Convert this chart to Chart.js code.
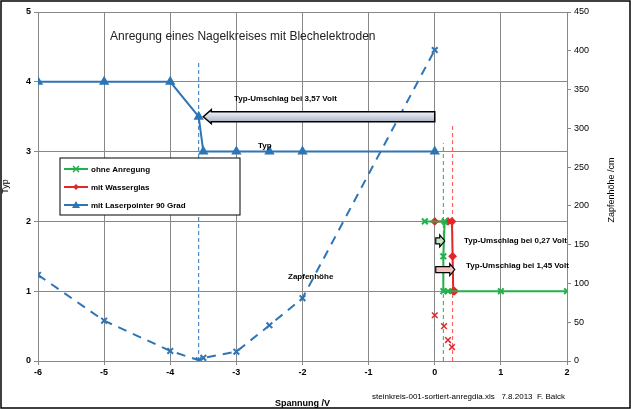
<!DOCTYPE html>
<html>
<head>
<meta charset="utf-8">
<script src="https://cdn.jsdelivr.net/npm/chart.js@4/dist/chart.umd.min.js"></script>
<style>
  body { margin: 0; background: #fff; }
  #wrap { width: 631px; height: 409px; position: relative; }
</style>
</head>
<body>
<div id="wrap"><canvas id="chart" width="631" height="409"></canvas></div>
<script>
// Typ (left axis)
var laserX = [-6, -5, -4, -3.57, -3.5, -3, -2.5, -2, 0];
var laserTyp = [4, 4, 4, 3.5, 3, 3, 3, 3, 3];
var ohneX = [-0.15, 0.15, 0.13, 0.13, 0.2, 1, 2];
var ohneTyp = [2, 2, 1.5, 1, 1, 1, 1];
var wasserX = [0, 0.2, 0.26, 0.27, 0.28, 0.3];
var wasserTyp = [2, 2, 2, 1.5, 1, 1];
// Zapfenhöhe /cm (right axis)
var zapfenX = [-6, -5, -4, -3.57, -3.5, -3, -2.5, -2, 0];
var zapfenH = [111, 52, 13, 1, 4, 12, 46, 81, 401];
var wasserZX = [0, 0.14, 0.2, 0.26];
var wasserZH = [59, 45, 27, 18];
// Umschlag-Markierungen
var markX = [-3.57, 0.13, 0.27];
var markTop = [4.28, 3.12, 3.38];
var markColors = ['#2e75b6', '#22b14c', '#ff5050'];
var xTicks = [-6, -5, -4, -3, -2, -1, 0, 1, 2];

function pts(xs, ys) {
    return xs.map(function (x, i) { return { x: x, y: ys[i] }; });
}

var datasets = [
    { label: 'ohne Anregung', data: pts(ohneX, ohneTyp), borderColor: '#22b14c', backgroundColor: '#22b14c',
      pointStyle: 'crossRot', pointRadius: 4, borderWidth: 2, yAxisID: 'y' },
    { label: 'mit Wasserglas', data: pts(wasserX, wasserTyp), borderColor: '#e3262b', backgroundColor: '#e3262b',
      pointStyle: 'rectRot', pointRadius: 3, borderWidth: 2, yAxisID: 'y' },
    { label: 'mit Laserpointer 90 Grad', data: pts(laserX, laserTyp), borderColor: '#2e75b6', backgroundColor: '#2e75b6',
      pointStyle: 'triangle', pointRadius: 4, borderWidth: 2, yAxisID: 'y' },
    { label: 'Zapfenhöhe', data: pts(zapfenX, zapfenH), borderColor: '#2e75b6', backgroundColor: '#2e75b6',
      pointStyle: 'crossRot', pointRadius: 4, borderWidth: 2, borderDash: [9, 7], yAxisID: 'y1' },
    { label: 'Zapfenhöhe Wasserglas', data: pts(wasserZX, wasserZH), borderColor: '#e3262b', backgroundColor: '#e3262b',
      pointStyle: 'crossRot', pointRadius: 4, borderWidth: 1.5, showLine: false, yAxisID: 'y1' }
];
markX.forEach(function (x, i) {
    datasets.push({ label: 'mark' + i, data: [{ x: x, y: 0 }, { x: x, y: markTop[i] }],
        borderColor: markColors[i], borderWidth: 1, borderDash: [4, 3], pointRadius: 0, yAxisID: 'y' });
});

var extras = {
    id: 'extras',
    afterDraw: function (chart) {
        var c = chart.ctx, x = chart.scales.x, y = chart.scales.y;
        c.save();
        c.strokeStyle = '#000'; c.lineWidth = 1.5;
        c.strokeRect(1, 1, 629, 407);
        // big arrow
        var x0 = x.getPixelForValue(0), x1 = x.getPixelForValue(-3.5), yc = y.getPixelForValue(3.5);
        var g = c.createLinearGradient(0, yc - 5, 0, yc + 5);
        g.addColorStop(0, '#f2f4f8'); g.addColorStop(1, '#aab4c8');
        c.beginPath();
        c.moveTo(x0, yc - 5); c.lineTo(x1 + 8, yc - 5); c.lineTo(x1 + 8, yc - 7); c.lineTo(x1, yc);
        c.lineTo(x1 + 8, yc + 7); c.lineTo(x1 + 8, yc + 5); c.lineTo(x0, yc + 5); c.closePath();
        c.fillStyle = g; c.fill(); c.lineWidth = 1.5; c.stroke();
        // small arrows
        function arrow(xa, xb, yy, fill) {
            c.beginPath();
            c.moveTo(xa, yy - 3); c.lineTo(xb - 5, yy - 3); c.lineTo(xb - 5, yy - 6); c.lineTo(xb, yy);
            c.lineTo(xb - 5, yy + 6); c.lineTo(xb - 5, yy + 3); c.lineTo(xa, yy + 3); c.closePath();
            c.fillStyle = fill; c.fill(); c.lineWidth = 1.2; c.stroke();
        }
        arrow(x0 + 1, x0 + 10, y.getPixelForValue(1.72), '#c8e6c9');
        arrow(x0 + 1, x0 + 20, y.getPixelForValue(1.31), '#f4c2c2');
        // texts
        c.fillStyle = '#222';
        c.font = '12px "Liberation Sans", Arial';
        c.fillText('Anregung eines Nagelkreises mit Blechelektroden', 110, 40);
        c.fillStyle = '#000';
        c.font = 'bold 8px "Liberation Sans", Arial';
        c.fillText('Typ-Umschlag bei 3,57 Volt', 234, 101);
        c.fillText('Typ', 258, 148);
        c.fillText('Zapfenhöhe', 288, 279);
        c.fillText('Typ-Umschlag bei 0,27 Volt', 464, 243);
        c.fillText('Typ-Umschlag bei 1,45 Volt', 466, 268);
        c.font = '8px "Liberation Sans", Arial';
        c.fillText('steinkreis-001-sortiert-anregdia.xls   7.8.2013  F. Balck', 372, 399);
        // right axis title (reads bottom to top)
        c.save();
        c.translate(614, 190); c.rotate(-Math.PI / 2);
        c.font = '9px "Liberation Sans", Arial'; c.textAlign = 'center';
        c.fillText('Zapfenhöhe /cm', 0, 0);
        c.restore();
        // legend box
        c.lineWidth = 1; c.strokeStyle = '#000';
        c.fillStyle = '#fff'; c.fillRect(60, 158, 180, 57); c.strokeRect(60, 158, 180, 57);
        var items = [['ohne Anregung', '#22b14c', 'x'], ['mit Wasserglas', '#e3262b', 'd'], ['mit Laserpointer 90 Grad', '#2e75b6', 't']];
        items.forEach(function (it, i) {
            var ly = 169 + i * 18;
            c.strokeStyle = it[1]; c.fillStyle = it[1]; c.lineWidth = 2;
            c.beginPath(); c.moveTo(64, ly); c.lineTo(88, ly); c.stroke();
            c.beginPath();
            if (it[2] === 'x') { c.lineWidth = 1.5; c.moveTo(73, ly - 3); c.lineTo(79, ly + 3); c.moveTo(79, ly - 3); c.lineTo(73, ly + 3); c.stroke(); }
            else if (it[2] === 'd') { c.moveTo(76, ly - 3); c.lineTo(79, ly); c.lineTo(76, ly + 3); c.lineTo(73, ly); c.fill(); }
            else { c.moveTo(76, ly - 4); c.lineTo(80, ly + 3); c.lineTo(72, ly + 3); c.fill(); }
            c.fillStyle = '#000'; c.font = 'bold 8px "Liberation Sans", Arial';
            c.fillText(it[0], 91, ly + 3);
        });
        c.restore();
    }
};

var tickFont = { family: '"Liberation Sans", Arial', size: 9, weight: 'bold' };
new Chart(document.getElementById('chart'), {
    type: 'scatter',
    data: { datasets: datasets },
    plugins: [extras],
    options: {
        responsive: false,
        animation: false,
        showLine: true,
        layout: { padding: { top: 12 } },
        plugins: { legend: { display: false }, tooltip: { enabled: false } },
        scales: {
            x: {
                type: 'linear', min: -6, max: 2,
                afterBuildTicks: function (s) { s.ticks = xTicks.map(function (v) { return { value: v }; }); },
                afterFit: function (s) { s.height = 48; },
                grid: { color: '#888', tickLength: 4 },
                border: { color: '#888' },
                ticks: { color: '#000', font: tickFont, padding: 2 },
                title: { display: true, text: 'Spannung /V', color: '#000', font: { family: '"Liberation Sans", Arial', size: 9, weight: 'bold' }, padding: 0 }
            },
            y: {
                position: 'left', min: 0, max: 5,
                afterFit: function (s) { s.width = 38; },
                grid: { color: '#888', tickLength: 4 },
                border: { color: '#888' },
                ticks: { stepSize: 1, color: '#000', font: tickFont },
                title: { display: true, text: 'Typ', color: '#000', font: { family: '"Liberation Sans", Arial', size: 9 }, padding: 0 }
            },
            y1: {
                position: 'right', min: 0, max: 450,
                afterFit: function (s) { s.width = 64; },
                grid: { drawOnChartArea: false, tickLength: 4, color: '#888' },
                border: { color: '#888' },
                ticks: { stepSize: 50, color: '#000', font: { family: '"Liberation Sans", Arial', size: 9 } },
                title: { display: false }
            }
        }
    }
});
</script>
</body>
</html>
